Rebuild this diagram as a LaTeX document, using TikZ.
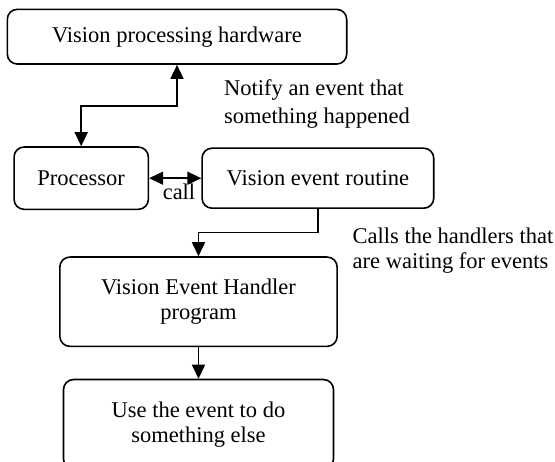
\documentclass[tikz,border=0pt]{standalone}
\usepackage{fontspec}
\setmainfont{Liberation Serif}
\usetikzlibrary{arrows.meta}
\tikzset{
  box/.style={draw, line width=1.6pt, rounded corners=10pt, inner sep=0pt, align=center,
    font=\fontsize{22.5}{25}\selectfont},
  lbl/.style={inner sep=0pt, align=left, font=\fontsize{22.5}{25}\selectfont},
  conn/.style={line width=1.6pt},
  tip/.tip={Triangle[length=14pt,width=13pt]},
  arr/.style={conn, -tip},
  dbl/.style={conn, tip-tip},
}
\begin{document}
\begin{tikzpicture}[x=1pt, y=-1pt]
\useasboundingbox (0,0) rectangle (555,462);
\clip (0,0) rectangle (555,462);
\node[box, minimum width=339.4pt, minimum height=54.7pt] (hw) at (177,36.7) {Vision processing hardware};
\node[box, minimum width=134.3pt, minimum height=62.3pt] (proc) at (81.2,178.2) {Processor};
\node[box, minimum width=231.7pt, minimum height=60pt] (rout) at (317.9,178.2) {Vision event routine};
\node[box, minimum width=277.3pt, minimum height=89.3pt] (hand) at (198.5,301.7) {Vision Event Handler\\program};
\node[box, minimum width=270pt, minimum height=89.5pt] (use) at (198.5,424.3) {Use the event to do\\something else};
\coordinate (j1) at (130,106);
\coordinate (j2) at (260,232.7);
\draw[dbl] (proc.north) |- (j1) -| (hw.south);
\draw[dbl] (proc.east) -- (rout.west);
\draw[arr] (rout.south) |- (j2) -| (hand.north);
\draw[arr] (hand.south) -- (use.north);
\node[lbl, anchor=base] (call) at (179,200) {call};
\node[lbl, anchor=base west, font=\fontsize{22.5}{27.5}\selectfont] (notify) at (224,123.3) {Notify an event that\\something happened};
\node[lbl, anchor=base west] (calls) at (352.5,268.3) {Calls the handlers that\\are waiting for events};
\end{tikzpicture}
\end{document}
